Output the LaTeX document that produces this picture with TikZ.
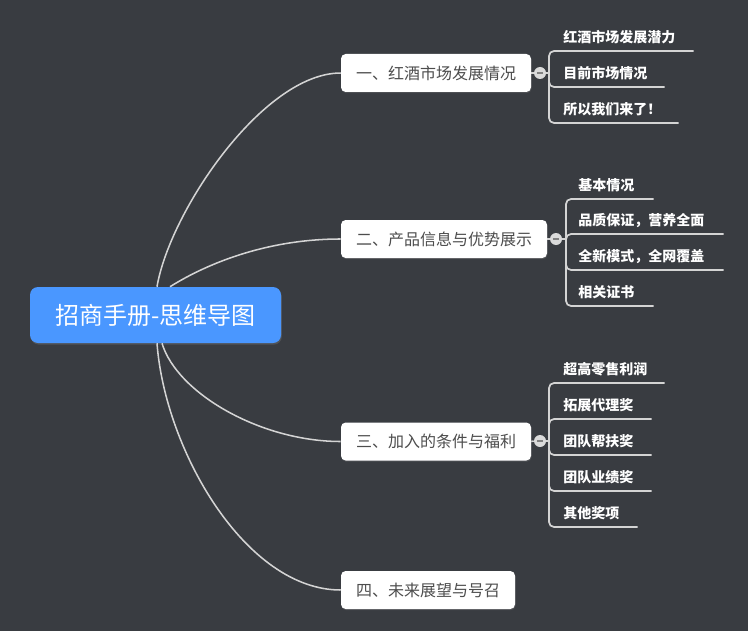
\documentclass[tikz,border=0pt]{standalone}
\usepackage{fontspec}
\setmainfont{Noto Sans CJK SC}
\usetikzlibrary{calc,shadows}
\definecolor{bg}{HTML}{393C41}
\definecolor{rootc}{HTML}{4A97FF}
\definecolor{linec}{HTML}{D4D4D4}
\definecolor{btext}{HTML}{4D4D4D}
\definecolor{togc}{HTML}{DADADA}
\definecolor{minusc}{HTML}{808080}
\begin{document}
\begin{tikzpicture}[x=0.75pt,y=-0.75pt,
  rootbox/.style={rectangle, rounded corners=6pt, fill=rootc, text=white,
    font=\fontsize{18pt}{21pt}\selectfont, minimum width=188.25pt,
    minimum height=42pt, inner sep=0pt,
    drop shadow={shadow xshift=0.6pt, shadow yshift=-1.2pt, opacity=0.35}},
  branchbox/.style={rectangle, rounded corners=3.5pt, fill=white, text=btext,
    font=\fontsize{12pt}{14pt}\selectfont, minimum width=#1,
    minimum height=28.5pt, inner sep=0pt,
    drop shadow={shadow xshift=0.4pt, shadow yshift=-0.9pt, opacity=0.3}},
  leafbox/.style 2 args={anchor=south west, inner xsep=0pt, inner ysep=0pt,
    text width=#1, align=left, execute at begin node={\hspace*{#2}},
    text height=9pt, text depth=6.5pt, text=white,
    font=\fontsize{10.5pt}{12pt}\selectfont\bfseries},
  conn/.style={draw=linec, line width=1.15pt},
  br/.style={draw=linec, line width=1.3pt, rounded corners=3.75pt},
  toggle/.style={circle, fill=togc, minimum size=9pt, inner sep=0pt,
    path picture={\draw[line width=1.4pt, minusc]
      ([xshift=-2.3pt]path picture bounding box.center) --
      ([xshift=2.3pt]path picture bounding box.center);}}
]
\useasboundingbox (0,0) rectangle (748,631);
\fill[bg] (0,0) rectangle (748,631);

% root and branches
\node[rootbox] (root) at (155.5,315) {招商手册-思维导图};
\node[branchbox=142.5pt] (b1) at (436,73) {一、红酒市场发展情况};
\node[branchbox=154.5pt] (b2) at (444,239) {二、产品信息与优势展示};
\node[branchbox=142.5pt] (b3) at (436,441.5) {三、加入的条件与福利};
\node[branchbox=130.5pt] (b4) at (428,590) {四、未来展望与号召};

% curves root -> branches
\draw[conn] ($(root.north)+(1.5,0)$) .. controls +(13,-76) and +(-77,0) .. (b1.west);
\draw[conn] ($(root.north)+(14.5,0)$) .. controls +(40,-25) and +(-71,0) .. (b2.west);
\draw[conn] ($(root.south)+(6.5,0)$) .. controls +(15,50) and +(-80,0) .. (b3.west);
\draw[conn] ($(root.south)+(1.5,0)$) .. controls +(8,107) and +(-95,0) .. (b4.west);

% toggles
\node[toggle] (c1) at (540,73) {};
\node[toggle] (c2) at (556,239) {};
\node[toggle] (c3) at (540,441) {};
\draw[conn] (b1.east) -- (c1.west);
\draw[conn] (b2.east) -- (c2.west);
\draw[conn] (b3.east) -- (c3.west);

\coordinate (g1) at (549,73);
\coordinate (g2) at (566,239);
\coordinate (g3) at (549,441);
\draw[br] (c1.east) -- (g1);
\draw[br] (c2.east) -- (g2);
\draw[br] (c3.east) -- (g3);

% leaves group 1
\node[leafbox={108pt}{10.5pt}] (l11) at (549,51) {红酒市场发展潜力};
\node[leafbox={86.25pt}{10.5pt}] (l12) at (549,87) {目前市场情况};
\node[leafbox={96.75pt}{10.5pt}] (l13) at (549,123) {所以我们来了！};
% leaves group 2
\node[leafbox={65.25pt}{9pt}] (l21) at (566,199) {基本情况};
\node[leafbox={117.75pt}{9pt}] (l22) at (566,234) {品质保证，营养全面};
\node[leafbox={117.75pt}{9pt}] (l23) at (566,270) {全新模式，全网覆盖};
\node[leafbox={65.25pt}{9pt}] (l24) at (566,306) {相关证书};
% leaves group 3
\node[leafbox={86.25pt}{10.5pt}] (l31) at (549,383) {超高零售利润};
\node[leafbox={76.5pt}{10.5pt}] (l32) at (549,419) {拓展代理奖};
\node[leafbox={76.5pt}{10.5pt}] (l33) at (549,455) {团队帮扶奖};
\node[leafbox={76.5pt}{10.5pt}] (l34) at (549,491) {团队业绩奖};
\node[leafbox={66pt}{10.5pt}] (l35) at (549,527) {其他奖项};

% bracket connectors with underlines
\foreach \l in {l11,l12,l13} \draw[br] (g1) |- (\l.south east);
\foreach \l in {l21,l22,l23,l24} \draw[br] (g2) |- (\l.south east);
\foreach \l in {l31,l32,l33,l34,l35} \draw[br] (g3) |- (\l.south east);
\end{tikzpicture}
\end{document}
